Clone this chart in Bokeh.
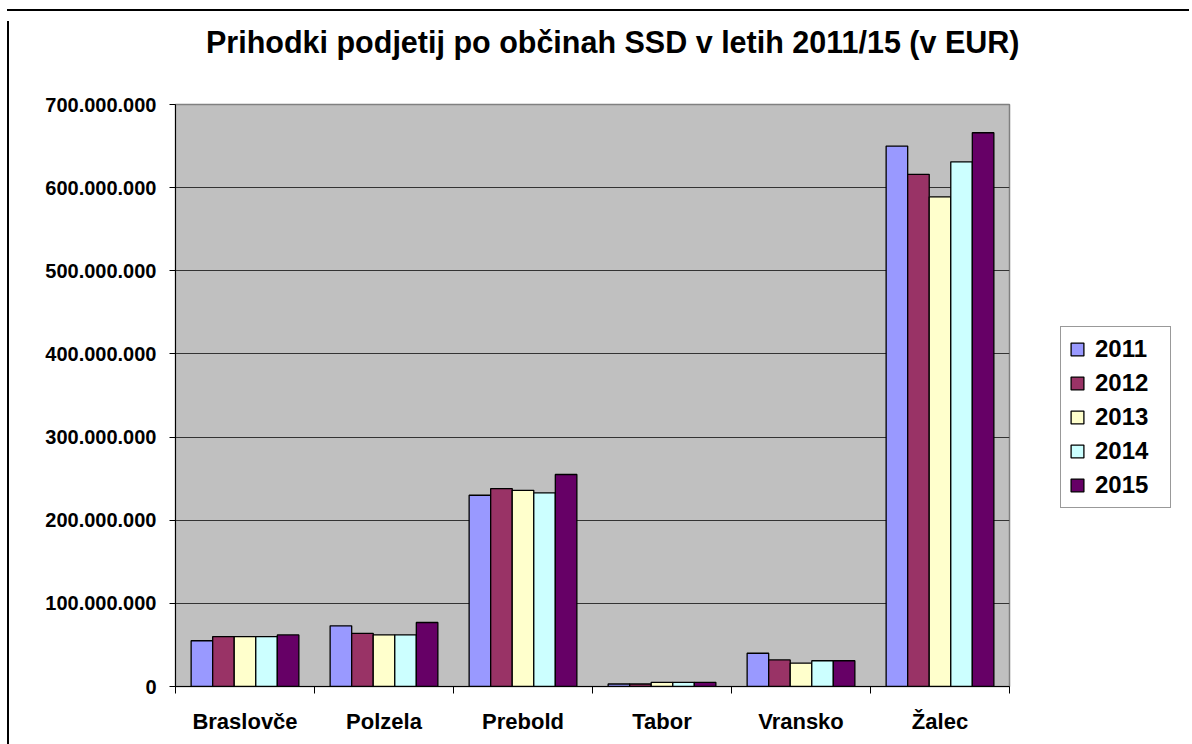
from bokeh.plotting import figure
from bokeh.models import (ColumnDataSource, FixedTicker, CustomJSTickFormatter,
                          Legend, LegendItem, Range1d, Div, Spacer)
from bokeh.layouts import column, row
from bokeh.transform import dodge
from bokeh.embed import file_html
from bokeh.resources import INLINE

title_text = "Prihodki podjetij po občinah SSD v letih 2011/15 (v EUR)"
municipalities = ["Braslovče", "Polzela", "Prebold", "Tabor", "Vransko", "Žalec"]
years = ["2011", "2012", "2013", "2014", "2015"]
v2011 = [55_000_000, 73_000_000, 230_000_000, 3_000_000, 40_000_000, 650_000_000]
v2012 = [60_000_000, 64_000_000, 238_000_000, 3_000_000, 32_000_000, 616_000_000]
v2013 = [60_000_000, 62_000_000, 236_000_000, 5_000_000, 28_000_000, 589_000_000]
v2014 = [60_000_000, 62_000_000, 233_000_000, 5_000_000, 31_000_000, 631_000_000]
v2015 = [62_000_000, 77_000_000, 255_000_000, 5_000_000, 31_000_000, 666_000_000]
series = [v2011, v2012, v2013, v2014, v2015]
colors = ["#9999FF", "#993366", "#FFFFCC", "#CCFFFF", "#660066"]
y_ticks = [0, 100_000_000, 200_000_000, 300_000_000, 400_000_000,
           500_000_000, 600_000_000, 700_000_000]

FONT = "Liberation Sans"
n = len(municipalities)
centers = [i + 0.5 for i in range(n)]
bounds = [i for i in range(n + 1)]

data = {"x": centers}
for y, vals in zip(years, series):
    data["y" + y] = vals
src = ColumnDataSource(data)

p = figure(frame_width=834, frame_height=582, output_backend="svg", toolbar_location=None,
           title=None,
           x_range=Range1d(0, n), y_range=Range1d(0, 700_000_000),
           min_border_left=161, min_border_right=185, min_border_top=14,
           min_border_bottom=58,
           background_fill_color="#C0C0C0", border_fill_color="white")

bw = 0.155
offsets = [-2 * bw, -bw, 0, bw, 2 * bw]
items = []
for y, c, off in zip(years, colors, offsets):
    r = p.vbar(x=dodge("x", off, range=p.x_range), top="y" + y, width=bw, source=src,
               fill_color=c, line_color="black", line_width=1.3)
    items.append(LegendItem(label=y, renderers=[r]))

p.outline_line_color = "#808080"
p.outline_line_width = 1.5

p.xgrid.visible = False
p.ygrid.ticker = FixedTicker(ticks=y_ticks)
p.ygrid.grid_line_color = "#333333"
p.ygrid.grid_line_width = 1

# y axis
p.yaxis.ticker = FixedTicker(ticks=y_ticks)
p.yaxis.formatter = CustomJSTickFormatter(code="""
return Math.round(tick).toString().replace(/\\B(?=(\\d{3})+(?!\\d))/g, '.');
""")
p.yaxis.major_label_text_font = FONT
p.yaxis.major_label_text_font_size = "20px"
p.yaxis.major_label_text_font_style = "bold"
p.yaxis.major_label_text_color = "black"
p.yaxis.major_tick_out = 6
p.yaxis.major_tick_in = 0
p.yaxis.minor_tick_out = 0
p.yaxis.minor_tick_in = 0
p.yaxis.major_label_standoff = 13
p.yaxis.axis_line_color = "black"
p.yaxis.major_tick_line_color = "black"

# x axis
p.xaxis.ticker = FixedTicker(ticks=centers, minor_ticks=bounds)
p.xaxis.major_label_overrides = {c: m for c, m in zip(centers, municipalities)}
p.xaxis.major_label_text_font = FONT
p.xaxis.major_label_text_font_size = "22px"
p.xaxis.major_label_text_font_style = "bold"
p.xaxis.major_label_text_color = "black"
p.xaxis.major_tick_out = 0
p.xaxis.major_tick_in = 0
p.xaxis.minor_tick_out = 7
p.xaxis.minor_tick_in = 0
p.xaxis.minor_tick_line_color = "black"
p.xaxis.major_label_standoff = 15
p.xaxis.axis_line_color = "black"

legend = Legend(items=items, location=(51, 178))
legend.label_text_font = FONT
legend.label_text_font_size = "24px"
legend.label_text_font_style = "bold"
legend.label_text_color = "black"
legend.glyph_width = 16
legend.glyph_height = 16
legend.label_standoff = 10
legend.label_width = 67
legend.padding = 8
legend.spacing = 6
legend.margin = 0
legend.border_line_color = "#333333"
legend.border_line_width = 1
legend.background_fill_color = "white"
legend.background_fill_alpha = 1
p.add_layout(legend, "right")

title_div = Div(
    text=('<div style="font-family:\'Liberation Sans\',Arial,sans-serif;'
          'font-size:30.5px;font-weight:bold;line-height:43px;color:#000;'
          'margin:0;padding:0 0 0 187px;white-space:nowrap;">'
          + title_text + '</div>'),
    width=1180, height=64)

top_line = Div(width=1182, height=2, styles={"background-color": "black"})
left_line = Div(width=2, height=730, styles={"background-color": "black"})
layout = column(
    Spacer(width=1184, height=4),
    row(Spacer(width=2, height=732),
        column(top_line,
               row(left_line, column(title_div, p, spacing=0), spacing=0),
               spacing=0),
        spacing=0),
    spacing=0,
)

open("out.html", "w").write(file_html(layout, INLINE))
